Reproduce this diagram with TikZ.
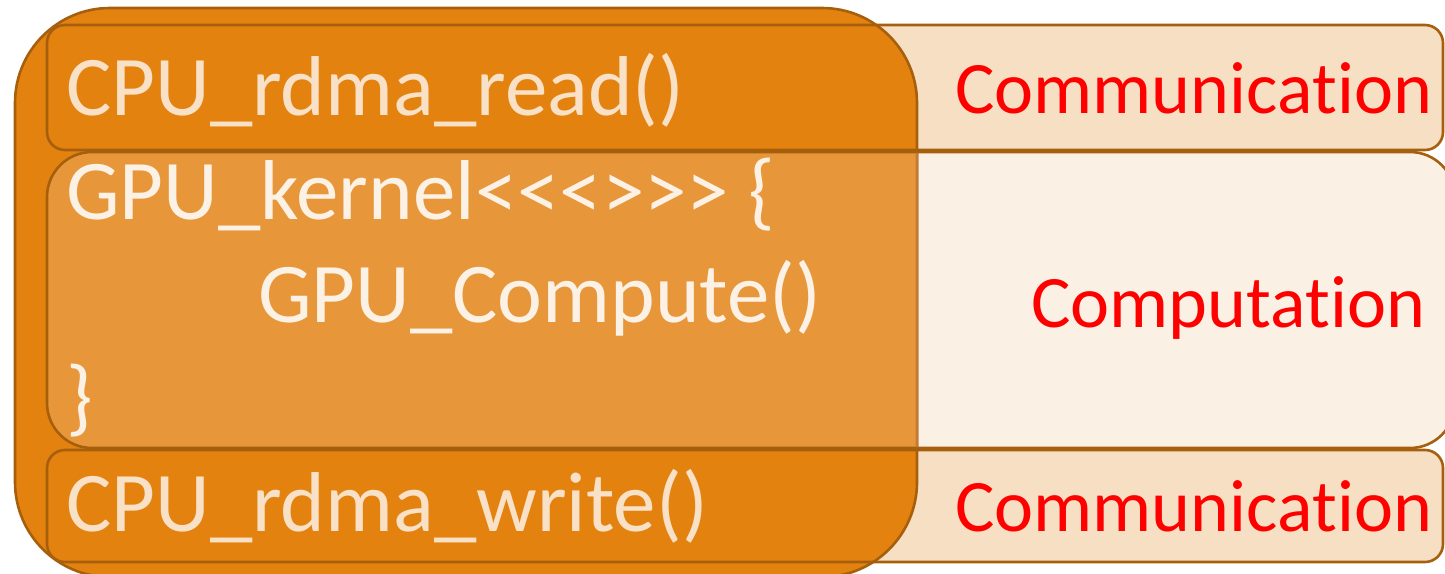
\documentclass[tikz,border=0pt]{standalone}
\usepackage{fontspec}
\setmainfont{Carlito}[Ligatures={TeXOff,NoCommon,NoRequired,NoContextual,NoRare,NoDiscretionary}]
\definecolor{orng}{HTML}{E4820F}
\definecolor{orngmid}{HTML}{E8963A}
\definecolor{peach}{HTML}{F7DFC3}
\definecolor{pale}{HTML}{FBF0E4}
\definecolor{edge}{HTML}{A65F0C}
\definecolor{edgelight}{HTML}{C27B34}
\definecolor{txtpeach}{HTML}{F8E1C6}
\definecolor{txtpale}{HTML}{FCF1E5}
\definecolor{red}{HTML}{FF0000}
\tikzset{
  code/.style={anchor=base west, inner sep=0pt, font=\fontsize{85}{103}\selectfont},
  label/.style={anchor=base west, inner sep=0pt, text=red, font=\fontsize{74}{90}\selectfont},
  border/.style={draw=edge, line width=2.6pt},
}
\begin{document}
\begin{tikzpicture}[x=1pt,y=-1pt]
\useasboundingbox (0,0) rectangle (1445,573);
% stripes
\def\topstripe{(47,25) rectangle (1443,150)}
\def\midstripe{(47,152) rectangle (1455,448)}
\def\botstripe{(47,450) rectangle (1443,562)}
\def\bigbox{(15,8) rectangle (917,577)}
\fill[peach, rounded corners=18pt] \topstripe;
\fill[pale, rounded corners=45pt] \midstripe;
\fill[peach, rounded corners=18pt] \botstripe;
\draw[border, rounded corners=18pt] \topstripe;
\draw[border, rounded corners=45pt] \midstripe;
\draw[border, rounded corners=18pt] \botstripe;
% big orange box
\filldraw[fill=orng, border, rounded corners=95pt] \bigbox;
\begin{scope}
  \clip[rounded corners=95pt] \bigbox;
  \fill[orngmid, rounded corners=45pt] \midstripe;
  \draw[border, rounded corners=18pt] \topstripe;
  \draw[border, rounded corners=45pt] \midstripe;
  \draw[border, rounded corners=18pt] \botstripe;
\end{scope}
\begin{scope}
  \clip[rounded corners=45pt] (48.5,153.5) rectangle (1453,446.5);
  \draw[draw=edgelight, line width=2.6pt, rounded corners=95pt] \bigbox;
\end{scope}
% texts
\node[code, text=txtpeach] (read) at (66,115) {CPU\_rdma\_read()};
\node[code, text=txtpale] (kern) at (66,219) {GPU\_kernel<<<>>> \{};
\node[code, text=txtpale] (comp) at (258,322) {GPU\_Compute()};
\node[code, text=txtpale] (close) at (66,425) {\}};
\node[code, text=txtpeach] (write) at (66,531) {CPU\_rdma\_write()};
\node[label] (comm1) at (955,113) {Communica\kern0pt tion};
\node[label] (compu) at (1031,327) {Computa\kern0pt tion};
\node[label] (comm2) at (955,531) {Communica\kern0pt tion};
\end{tikzpicture}
\end{document}
